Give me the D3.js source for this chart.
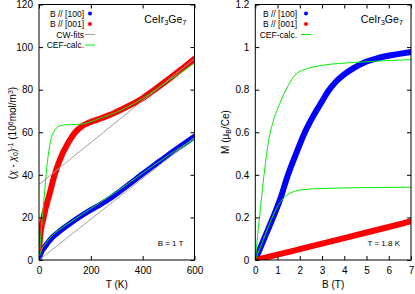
<!DOCTYPE html>
<html>
<head>
<meta charset="utf-8">
<script src="https://cdn.jsdelivr.net/npm/d3@7"></script>
<style>
  body { margin: 0; background: #fff; }
  svg { display: block; }
  text { font-family: "Liberation Sans", Arial, sans-serif; fill: #000; }
</style>
</head>
<body>
<svg id="chart" width="415" height="294"></svg>
<script>
// ---------- Left panel: inverse susceptibility vs T ----------
const chiB100T = [1, 3, 5, 10, 16, 23, 32, 40, 55, 75, 94, 125, 159, 200, 236, 275, 300, 350, 400, 450, 500, 550, 600];
const chiB100V = [0.8, 1.8, 2.5, 4.0, 5.2, 6.3, 7.8, 9.0, 11.0, 13.0, 14.9, 17.6, 20.4, 23.5, 26.0, 29.0, 31.2, 35.8, 40.5, 45.0, 49.5, 53.8, 58.0];
const chiOutlierT = [46.5];
const chiOutlierV = [9.7];

const chiB001T = [1, 3, 6, 10, 17, 25, 36, 45, 55, 65, 75, 90, 107, 125, 140, 160, 180, 210, 240, 275, 300, 350, 400, 450, 500, 550, 600];
const chiB001V = [4.7, 9.0, 13.0, 16.0, 19.5, 24.0, 29.0, 33.0, 37.8, 41.8, 45.3, 49.8, 53.8, 57.5, 60.0, 62.3, 63.8, 65.3, 66.6, 68.2, 69.6, 72.6, 76.0, 80.4, 84.9, 89.6, 94.5];

const cwB100T = [0, 600];
const cwB100V = [0, 57.5];
const cwB001T = [0, 600];
const cwB001V = [35.5, 94.5];

const cefB100T = [0, 3, 6, 10, 16, 23, 32, 40, 55, 75, 94, 125, 159, 200, 250, 300, 400, 500, 600];
const cefB100V = [0, 2.4, 3.6, 5.0, 6.2, 7.3, 8.8, 10.0, 11.9, 13.9, 15.6, 18.1, 20.9, 24.1, 28.2, 32.2, 40.8, 49.2, 56.9];

const cefB001T = [3, 6, 10, 15, 19, 25, 30, 36, 43, 50, 55, 62, 68, 80, 94, 120, 150, 171, 200, 223, 250, 275, 300, 350, 400, 450, 500, 550, 600];
const cefB001V = [5, 10, 15.7, 22.5, 28.2, 36.5, 43.5, 49.5, 54.9, 58.2, 59.8, 61.2, 62.1, 63.0, 63.4, 63.6, 63.7, 64.0, 65.0, 66.0, 67.2, 68.3, 69.5, 72.4, 75.9, 80.0, 84.2, 88.3, 92.5];

const chiXTicks = [0, 200, 400, 600];
const chiYTicks = [0, 20, 40, 60, 80, 100, 120];

// ---------- Right panel: magnetization vs B ----------
const mB100B = [0, 0.4, 0.8, 1.1, 1.47, 1.8, 2.23, 2.6, 3.0, 3.26, 3.6, 4.0, 4.4, 4.9, 5.4, 5.8, 6.4, 7.0];
const mB100V = [0, 0.10, 0.20, 0.28, 0.40, 0.49, 0.60, 0.675, 0.745, 0.79, 0.835, 0.872, 0.90, 0.928, 0.945, 0.956, 0.967, 0.977];

const mB001B = [0, 1, 2, 3, 4, 5, 6, 7];
const mB001V = [0, 0.025, 0.051, 0.077, 0.103, 0.129, 0.155, 0.182];

const cefUpB = [0, 0.1, 0.2, 0.36, 0.5, 0.6, 0.8, 1.1, 1.48, 1.78, 2.23, 3.0, 4.5, 7.0];
const cefUpV = [0, 0.11, 0.21, 0.37, 0.49, 0.56, 0.65, 0.735, 0.82, 0.868, 0.895, 0.914, 0.928, 0.941];

const cefLowB = [0, 0.3, 0.6, 0.88, 1.0, 1.2, 1.5, 1.8, 2.2, 3.0, 5.0, 7.0];
const cefLowV = [0, 0.08, 0.16, 0.227, 0.252, 0.282, 0.31, 0.324, 0.331, 0.336, 0.34, 0.342];

const mXTicks = [0, 1, 2, 3, 4, 5, 6, 7];
const mYTicks = [0, 0.2, 0.4, 0.6, 0.8, 1, 1.2];

// ---------- Drawing ----------
const BLUE = "#0000ff", RED = "#ff0000", GREEN = "#00ee00", GRAY = "#a0a0a0";
const svg = d3.select("#chart");
const zip = (xs, ys) => xs.map((x, i) => [x, ys[i]]);

function panel(cfg) {
  const x = d3.scaleLinear().domain(cfg.xDomain).range([cfg.left, cfg.right]);
  const y = d3.scaleLinear().domain(cfg.yDomain).range([cfg.bottom, cfg.top]);
  const g = svg.append("g");
  const clipId = "clip" + cfg.id;
  svg.append("clipPath").attr("id", clipId).append("rect")
    .attr("x", cfg.left).attr("y", cfg.top)
    .attr("width", cfg.right - cfg.left).attr("height", cfg.bottom - cfg.top);
  const plot = g.append("g").attr("clip-path", `url(#${clipId})`);
  const line = d3.line().x(d => x(d[0])).y(d => y(d[1])).curve(d3.curveMonotoneX);

  // thick data bands
  cfg.data.forEach(s => {
    plot.append("path").datum(zip(s.x, s.y))
      .attr("d", line).attr("fill", "none").attr("stroke", s.color)
      .attr("stroke-width", s.w).attr("stroke-linecap", "round").attr("stroke-linejoin", "round");
    if (s.extraX) {
      plot.selectAll(null).data(zip(s.extraX, s.extraY)).join("circle")
        .attr("cx", d => x(d[0])).attr("cy", d => y(d[1])).attr("r", 2).attr("fill", s.color);
    }
  });
  // thin lines
  cfg.lines.forEach(s => {
    plot.append("path").datum(zip(s.x, s.y))
      .attr("d", line).attr("fill", "none").attr("stroke", s.color).attr("stroke-width", 1);
  });

  // axes with inward ticks
  const ax = g.append("g").attr("transform", `translate(0,${cfg.bottom})`)
    .call(d3.axisBottom(x).tickValues(cfg.xTicks).tickSize(-4).tickPadding(7).tickFormat(cfg.xFmt));
  const axT = g.append("g").attr("transform", `translate(0,${cfg.top})`)
    .call(d3.axisTop(x).tickValues(cfg.xTicks).tickSize(-4).tickFormat(""));
  const ay = g.append("g").attr("transform", `translate(${cfg.left},0)`)
    .call(d3.axisLeft(y).tickValues(cfg.yTicks).tickSize(-4).tickPadding(6).tickFormat(cfg.yFmt));
  const ayR = g.append("g").attr("transform", `translate(${cfg.right},0)`)
    .call(d3.axisRight(y).tickValues(cfg.yTicks).tickSize(-4).tickFormat(""));
  [ax, axT, ay, ayR].forEach(a => {
    a.select(".domain").remove();
    a.selectAll("line").attr("stroke", "#000");
    a.selectAll("text").style("font-size", "10px").style("font-family", "'Liberation Sans', Arial, sans-serif");
  });
  g.append("rect").attr("x", cfg.left).attr("y", cfg.top)
    .attr("width", cfg.right - cfg.left).attr("height", cfg.bottom - cfg.top)
    .attr("fill", "none").attr("stroke", "#000").attr("stroke-width", 1);

  // legend
  cfg.legend.forEach((L, i) => {
    const yy = cfg.legY + i * 10.5;
    g.append("text").attr("x", cfg.legTextEnd).attr("y", yy + 3).attr("text-anchor", "end")
      .style("font-size", "8.5px").text(L.label);
    if (L.type === "dot") {
      g.append("circle").attr("cx", cfg.legSym).attr("cy", yy).attr("r", 2).attr("fill", L.color);
    } else {
      g.append("line").attr("x1", cfg.legSym - 5).attr("x2", cfg.legSym + 5)
        .attr("y1", yy).attr("y2", yy).attr("stroke", L.color).attr("stroke-width", 1);
    }
  });

  // compound name
  const t = g.append("text").attr("x", cfg.right - 8).attr("y", 22.5).attr("text-anchor", "end")
    .style("font-size", "10.5px");
  t.append("tspan").text("CeIr");
  t.append("tspan").attr("baseline-shift", "-25%").style("font-size", "7.5px").text("3");
  t.append("tspan").text("Ge");
  t.append("tspan").attr("baseline-shift", "-25%").style("font-size", "7.5px").text("7");

  // condition note
  g.append("text").attr("x", cfg.right - 11).attr("y", 246).attr("text-anchor", "end")
    .style("font-size", "8px").text(cfg.note);

  // x label
  g.append("text").attr("x", (cfg.left + cfg.right) / 2).attr("y", 288).attr("text-anchor", "middle")
    .style("font-size", "10px").text(cfg.xLabel);
  return { x, y, g };
}

panel({
  id: "L", left: 39, right: 194.5, top: 4.5, bottom: 260,
  xDomain: [0, 600], yDomain: [0, 120], xTicks: chiXTicks, yTicks: chiYTicks,
  xFmt: d3.format("d"), yFmt: d3.format("d"),
  data: [
    { x: chiB100T, y: chiB100V, color: BLUE, w: 5.5, extraX: chiOutlierT, extraY: chiOutlierV },
    { x: chiB001T, y: chiB001V, color: RED, w: 6 }
  ],
  lines: [
    { x: cwB100T, y: cwB100V, color: GRAY },
    { x: cwB001T, y: cwB001V, color: GRAY },
    { x: cefB100T, y: cefB100V, color: GREEN },
    { x: cefB001T, y: cefB001V, color: GREEN }
  ],
  legend: [
    { label: "B // [100]", type: "dot", color: BLUE },
    { label: "B // [001]", type: "dot", color: RED },
    { label: "CW-fits", type: "line", color: GRAY },
    { label: "CEF-calc.", type: "line", color: GREEN }
  ],
  legY: 13.5, legTextEnd: 84, legSym: 90,
  note: "B = 1 T", xLabel: "T (K)"
});

panel({
  id: "R", left: 255.3, right: 411, top: 4.5, bottom: 260,
  xDomain: [0, 7], yDomain: [0, 1.2], xTicks: mXTicks, yTicks: mYTicks,
  xFmt: d3.format("d"), yFmt: d => d3.format("~g")(d),
  data: [
    { x: mB100B, y: mB100V, color: BLUE, w: 6 },
    { x: mB001B, y: mB001V, color: RED, w: 6 }
  ],
  lines: [
    { x: cefUpB, y: cefUpV, color: GREEN },
    { x: cefLowB, y: cefLowV, color: GREEN }
  ],
  legend: [
    { label: "B // [100]", type: "dot", color: BLUE },
    { label: "B // [001]", type: "dot", color: RED },
    { label: "CEF-calc.", type: "line", color: GREEN }
  ],
  legY: 13.5, legTextEnd: 297, legSym: 306,
  note: "T = 1.8 K", xLabel: "B (T)"
});

// y-axis labels
const yl = svg.append("text").attr("transform", "translate(16,133) rotate(-90)")
  .attr("text-anchor", "middle").style("font-size", "10px");
yl.append("tspan").text("(");
yl.append("tspan").style("font-style", "italic").text("χ");
yl.append("tspan").text(" - ");
yl.append("tspan").style("font-style", "italic").text("χ");
yl.append("tspan").attr("baseline-shift", "-25%").style("font-size", "7px").text("0");
yl.append("tspan").text(")");
yl.append("tspan").attr("baseline-shift", "40%").style("font-size", "7px").text("-1");
yl.append("tspan").text(" (10");
yl.append("tspan").attr("baseline-shift", "40%").style("font-size", "7px").text("6");
yl.append("tspan").text("mol/m");
yl.append("tspan").attr("baseline-shift", "40%").style("font-size", "7px").text("3");
yl.append("tspan").text(")");

const yr = svg.append("text").attr("transform", "translate(228.5,132) rotate(-90)")
  .attr("text-anchor", "middle").style("font-size", "10px");
yr.append("tspan").text("M (μ");
yr.append("tspan").attr("baseline-shift", "-25%").style("font-size", "7px").text("B");
yr.append("tspan").text("/Ce)");
</script>
</body>
</html>
